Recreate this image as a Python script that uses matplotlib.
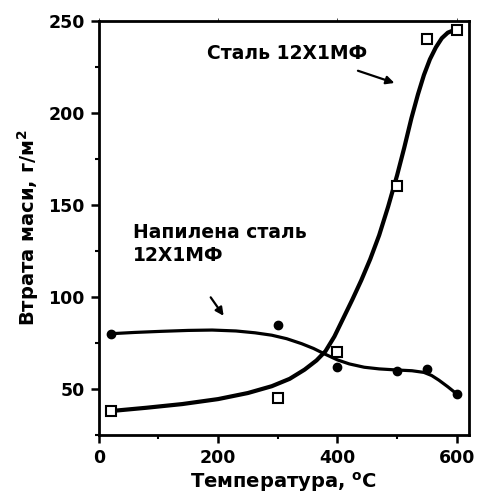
import numpy as np
import matplotlib.pyplot as plt
from matplotlib.ticker import MultipleLocator

plt.rcParams['font.family'] = ['DejaVu Sans']
plt.rcParams['font.weight'] = 'bold'
plt.rcParams['mathtext.default'] = 'bf'

# measured points
temp_steel = [20, 300, 400, 500, 550, 600]
loss_steel = [38, 45, 70, 160, 240, 245]
temp_sprayed = [20, 300, 400, 500, 550, 600]
loss_sprayed = [80, 85, 62, 60, 61, 47]

# fitted curves
fit_steel_x = [20, 80, 140, 200, 250, 290, 320, 345, 365, 380, 395, 410, 425, 440,
               455, 470, 485, 500, 512, 524, 535, 545, 555, 565, 575, 585, 600]
fit_steel_y = [38, 39.8, 41.8, 44.5, 47.8, 51.5, 55.5, 60.5, 65.5, 70.5, 78.5, 88.5,
               98.5, 109, 120.5, 133.5, 149, 166, 181, 197, 210, 220.5, 229, 235.5,
               240.5, 243.5, 245.5]
fit_sprayed_x = [20, 60, 105, 150, 190, 230, 262, 290, 315, 340, 360, 380, 400, 420,
                 445, 470, 500, 525, 545, 558, 570, 585, 600]
fit_sprayed_y = [80, 80.7, 81.3, 81.8, 82, 81.5, 80.5, 79.2, 77.3, 74.6, 72, 68.8,
                 65.8, 63.6, 61.8, 60.9, 60.3, 59.9, 59, 57.3, 54.8, 51.2, 47.3]

fig = plt.figure(figsize=(4.78, 4.95), dpi=100)
ax = fig.add_axes([0.2065, 0.1212, 0.774, 0.837])

ax.plot(fit_steel_x, fit_steel_y, color='black', lw=3, solid_joinstyle='round',
        solid_capstyle='round')
ax.plot(fit_sprayed_x, fit_sprayed_y, color='black', lw=2.3, solid_joinstyle='round',
        solid_capstyle='round')
ax.plot(temp_steel, loss_steel, 's', ms=7, mfc='white', mec='black', mew=1.5)
ax.plot(temp_sprayed, loss_sprayed, 'o', ms=6, color='black')

ax.set_xlim(0, 620)
ax.set_ylim(25, 250)
ax.xaxis.set_major_locator(MultipleLocator(200))
ax.xaxis.set_minor_locator(MultipleLocator(100))
ax.yaxis.set_major_locator(MultipleLocator(50))
ax.yaxis.set_minor_locator(MultipleLocator(25))

for s in ax.spines.values():
    s.set_linewidth(2)
ax.tick_params(which='major', direction='out', length=6, width=1.8, labelsize=12.5, pad=4)
ax.tick_params(which='minor', direction='out', length=3, width=1.5)
ax.tick_params(axis='x', which='both', top=True)
for t in ax.xaxis.get_ticklines(minor=False)[1::2]:
    t.set_markersize(2); t.set_markeredgewidth(0.5)
for t in ax.xaxis.get_ticklines(minor=True)[1::2]:
    t.set_markersize(0)

ax.set_xlabel('Температура, $^{\\mathbf{o}}$C', fontsize=14, fontweight='bold', labelpad=2)
ax.set_ylabel('Втрата маси, г/м$^{\\mathbf{2}}$', fontsize=14, fontweight='bold', labelpad=5)

ax.text(181, 232, 'Сталь 12Х1МФ', fontsize=13.5, fontweight='bold',
        va='center', ha='left')
ax.annotate('', xy=(500, 215.7), xytext=(430, 223.3),
            arrowprops=dict(arrowstyle='-|>', color='black', lw=1.6, mutation_scale=12))

ax.text(57, 128.8, 'Напилена сталь\n12Х1МФ', fontsize=13.5, fontweight='bold',
        va='center', ha='left', linespacing=1.3)
ax.annotate('', xy=(212, 88.5), xytext=(185, 101),
            arrowprops=dict(arrowstyle='-|>', color='black', lw=1.6, mutation_scale=12))

fig.savefig('out.png', dpi=100)
